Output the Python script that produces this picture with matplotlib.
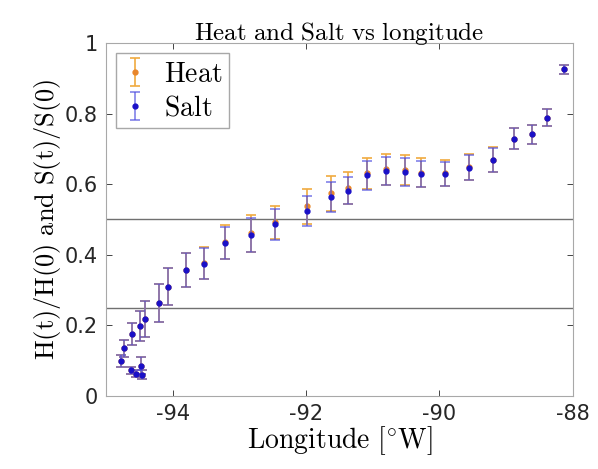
import numpy as np
import matplotlib
matplotlib.use('Agg')
import matplotlib.pyplot as plt

plt.rcParams['mathtext.fontset'] = 'cm'

# data
lon = [-94.77, -94.73, -94.62, -94.61, -94.55, -94.49, -94.48, -94.46, -94.41,
       -94.21, -94.07, -93.80, -93.53, -93.21, -92.83, -92.46, -91.99, -91.62,
       -91.37, -91.09, -90.80, -90.52, -90.27, -89.91, -89.55, -89.20, -88.89,
       -88.62, -88.39, -88.14]
salt = [0.099, 0.135, 0.072, 0.175, 0.062, 0.198, 0.086, 0.060, 0.217,
        0.264, 0.310, 0.357, 0.374, 0.433, 0.456, 0.486, 0.525, 0.563,
        0.582, 0.625, 0.637, 0.635, 0.629, 0.629, 0.647, 0.669, 0.729,
        0.741, 0.788, 0.926]
salt_err = [0.016, 0.024, 0.009, 0.032, 0.010, 0.042, 0.024, 0.012, 0.051,
            0.054, 0.053, 0.049, 0.044, 0.045, 0.048, 0.043, 0.043, 0.043,
            0.039, 0.040, 0.040, 0.039, 0.036, 0.035, 0.035, 0.034, 0.030,
            0.028, 0.024, 0.013]
heat = [0.099, 0.135, 0.072, 0.175, 0.062, 0.198, 0.086, 0.060, 0.217,
        0.264, 0.310, 0.357, 0.376, 0.437, 0.461, 0.492, 0.537, 0.574,
        0.590, 0.631, 0.642, 0.640, 0.633, 0.632, 0.649, 0.670, 0.729,
        0.741, 0.788, 0.926]
heat_err = [0.016, 0.024, 0.009, 0.032, 0.010, 0.042, 0.024, 0.012, 0.051,
            0.054, 0.053, 0.049, 0.046, 0.048, 0.052, 0.047, 0.050, 0.050,
            0.045, 0.044, 0.044, 0.043, 0.040, 0.038, 0.037, 0.035, 0.030,
            0.028, 0.024, 0.013]
hlines = [0.5, 0.25]
xticks = [-94, -92, -90, -88]
yticks = [0, 0.2, 0.4, 0.6, 0.8, 1]

fig = plt.figure(figsize=(5.98, 4.69), dpi=100)
ax = fig.add_axes([0.177, 0.156, 0.781, 0.752])

for h in hlines:
    ax.axhline(h, color='#707070', linewidth=1.0, zorder=1)

ax.errorbar(lon, heat, yerr=heat_err, fmt='o', color='#E8862A', ecolor='#F0AA40',
            markersize=3.5, capsize=3.5, elinewidth=1.2, capthick=1.2,
            label='Heat', zorder=2)
ax.errorbar(lon, salt, yerr=salt_err, fmt='o', color='#1A10C8',
            ecolor=(0.3, 0.3, 0.88, 0.7), markersize=3.5, capsize=3.5,
            elinewidth=1.2, capthick=1.2, label='Salt', zorder=3)

ax.set_xlim(-95, -88)
ax.set_ylim(0, 1)
ax.set_xticks(xticks)
ax.set_xticklabels([str(t) for t in xticks])
ax.set_yticks(yticks)
ax.set_yticklabels(['0', '0.2', '0.4', '0.6', '0.8', '1'])
ax.tick_params(direction='in', top=True, right=True, labelsize=15,
               colors='#262626', length=4, width=0.6, pad=6)
for sp in ax.spines.values():
    sp.set_color('#a8a8a8')
    sp.set_linewidth(0.8)

ax.set_title(r'$\mathrm{Heat\ and\ Salt\ vs\ longitude}$', fontsize=18, pad=2)
ax.set_xlabel(r'$\mathrm{Longitude\ [}^{\circ}\mathrm{W]}$', fontsize=20, labelpad=0)
ax.set_ylabel(r'$\mathrm{H(t)/H(0)\ and\ S(t)/S(0)}$', fontsize=19, labelpad=1)

leg = ax.legend(loc='upper left', prop={'size': 20},
                fancybox=False, edgecolor='#a8a8a8', framealpha=1,
                handlelength=0.9, borderpad=0.25, labelspacing=0.2,
                handletextpad=0.6, borderaxespad=0.35)
for t in leg.get_texts():
    t.set_text(r'$\mathrm{' + t.get_text() + '}$')

fig.savefig('out.png', dpi=100)
